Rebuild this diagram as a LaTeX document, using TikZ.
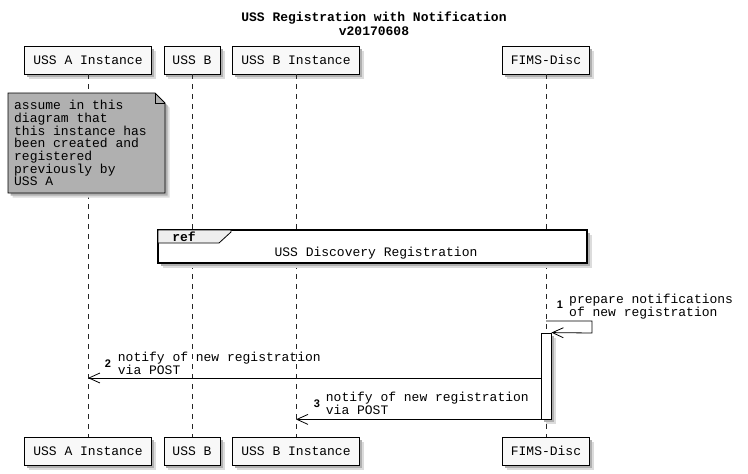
\documentclass[tikz,border=0pt]{standalone}
\usepackage{fontspec}
\newfontfamily\mono{Liberation Mono}
\newfontfamily\numf{Liberation Sans}
\usetikzlibrary{arrows.meta}
\definecolor{partfill}{HTML}{F8F8F8}
\definecolor{notefill}{HTML}{B0B0B0}
\definecolor{tabfill}{HTML}{EEEEEE}
\definecolor{shadeA}{HTML}{DCDCDC}
\definecolor{shadeB}{HTML}{B0B0B0}
\tikzset{
  shadowed/.style={
    preaction={fill=shadeA,draw=none,transform canvas={shift={(4.5pt,-4.5pt)}}},
    preaction={fill=shadeB,draw=none,transform canvas={shift={(2.5pt,-2.5pt)}}}},
  participant/.style={draw,fill=partfill,line width=0.8pt,shadowed,
    font=\mono\fontsize{13}{15}\selectfont,minimum height=28pt,inner xsep=8.5pt,inner ysep=0pt},
  lifeline/.style={line width=0.6pt,dash pattern=on 5pt off 5pt,black!85},
  msg/.style={line width=0.8pt,-{Straight Barb[length=11pt,width=10pt,line width=0.8pt]}},
  msgtext/.style={font=\mono\fontsize{13}{13}\selectfont,align=left,anchor=north west,inner sep=0pt},
  seqnum/.style={font=\numf\bfseries\fontsize{11}{13}\selectfont,inner sep=0pt},
  activation/.style={draw,fill=white,line width=0.8pt,shadowed,minimum width=10pt,inner sep=0pt},
}
\begin{document}
\begin{tikzpicture}[x=1pt,y=-1pt]
\useasboundingbox (0,0) rectangle (748,474);
% title
\node[font=\mono\bfseries\fontsize{13}{14}\selectfont,align=center] (title) at (374,24)
  {USS Registration with Notification\\v20170608};
% participants
\node[participant] (pA)  at (88,60)  {USS A Instance};
\node[participant] (pB)  at (192,60) {USS B};
\node[participant] (pBI) at (296,60) {USS B Instance};
\node[participant] (pF)  at (546,60) {FIMS-Disc};
\node[participant] (qA)  at (88,451)  {USS A Instance};
\node[participant] (qB)  at (192,451) {USS B};
\node[participant] (qBI) at (296,451) {USS B Instance};
\node[participant] (qF)  at (546,451) {FIMS-Disc};
% lifelines
\draw[lifeline] (pA) -- (qA);
\draw[lifeline] (pB) -- (qB);
\draw[lifeline] (pBI) -- (qBI);
\draw[lifeline] (pF) -- (qF);
% note
\draw[fill=notefill,line width=0.8pt,shadowed] (8,93) -- (155,93) -- (165,103) -- (165,193) -- (8,193) -- cycle;
\draw[line width=0.6pt] (155,93) -- (155,103) -- (165,103);
\node[font=\mono\fontsize{13}{12.7}\selectfont,align=left,anchor=north west,inner sep=0pt] (note) at (14,100)
  {assume in this\\diagram that\\this instance has\\been created and\\registered\\previously by\\USS A};
% ref box
\draw[fill=white,line width=1.4pt,shadowed] (158,230) rectangle (587,263);
\draw[fill=tabfill,line width=0.8pt] (158,230) -- (231,230) -- (231,232) -- (219,243) -- (158,243) -- cycle;
\node[font=\mono\bfseries\fontsize{13}{13}\selectfont,inner sep=0pt] (reftag) at (184,236.5) {ref};
\node[font=\mono\fontsize{13}{13}\selectfont,inner sep=0pt] (reftext) at (376,253) {USS Discovery Registration};
% activation
\node[activation,minimum height=86pt] (act) at (546,376) {};
% message 1 (self)
\coordinate (m1s) at (546,321);
\coordinate (m1a) at (592,321);
\coordinate (m1b) at (592,333);
\draw[msg] (m1s) -- (m1a) -- (m1b) -- (act.north east);
\node[seqnum] (n1) at (560,305) {1};
\node[msgtext] (t1) at (569,294) {prepare notifications\\of new registration};
% message 2
\coordinate (y2) at (0,378);
\draw[msg] (act.west |- y2) -- (pA |- y2);
\node[seqnum] (n2) at (108,363.5) {2};
\node[msgtext] (t2) at (117.7,352) {notify of new registration\\via POST};
% message 3
\draw[msg] (act.south west) -- (pBI |- act.south);
\node[seqnum] (n3) at (317,403.5) {3};
\node[msgtext] (t3) at (325.7,392) {notify of new registration\\via POST};
\end{tikzpicture}
\end{document}
